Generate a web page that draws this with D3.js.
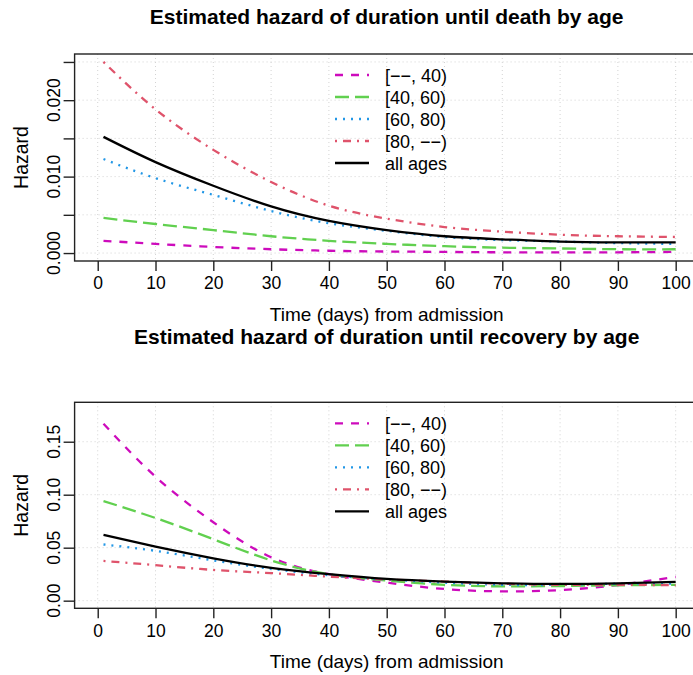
<!DOCTYPE html>
<html>
<head>
<meta charset="utf-8">
<script src="https://cdn.jsdelivr.net/npm/d3@7"></script>
<style>
  body { margin: 0; background: #fff; }
  svg { display: block; font-family: "Liberation Sans", Arial, Helvetica, sans-serif; }
  .grid line { stroke: #d3d3d3; stroke-width: 1; stroke-dasharray: 1,3; }
</style>
</head>
<body>
<svg id="chart" width="693" height="675"></svg>
<script>
const days = [1, 10, 20, 30, 40, 50, 60, 70, 80, 90, 100];
const groups = ["[\u2212\u2212, 40)", "[40, 60)", "[60, 80)", "[80, \u2212\u2212)", "all ages"];

// hazard of duration until death
const deathU40  = [0.0016, 0.0012, 0.0008, 0.0005, 0.0003, 0.0002, 0.00015, 0.0001, 0.0001, 0.0001, 0.00015];
const death4060 = [0.0046, 0.0038, 0.0030, 0.0022, 0.0016, 0.0012, 0.0009, 0.0007, 0.0006, 0.0005, 0.0005];
const death6080 = [0.0123, 0.0098, 0.0076, 0.0055, 0.0039, 0.0029, 0.0021, 0.0017, 0.0015, 0.0013, 0.0012];
const death80   = [0.0250, 0.0188, 0.0135, 0.0093, 0.0062, 0.0045, 0.0034, 0.0028, 0.0024, 0.0022, 0.0021];
const deathAll  = [0.0152, 0.0119, 0.0088, 0.0061, 0.0042, 0.0030, 0.0022, 0.0018, 0.0015, 0.0014, 0.0014];

// hazard of duration until recovery
const recovU40  = [0.167, 0.117, 0.074, 0.041, 0.025, 0.017, 0.0110, 0.0088, 0.0100, 0.0148, 0.0225];
const recov4060 = [0.094, 0.078, 0.058, 0.038, 0.025, 0.019, 0.0150, 0.0135, 0.0138, 0.0145, 0.0150];
const recov6080 = [0.053, 0.047, 0.038, 0.030, 0.024, 0.020, 0.017, 0.015, 0.015, 0.016, 0.016];
const recov80   = [0.0375, 0.0335, 0.029, 0.026, 0.0227, 0.020, 0.018, 0.016, 0.015, 0.015, 0.0145];
const recovAll  = [0.062, 0.051, 0.040, 0.031, 0.025, 0.0205, 0.018, 0.0164, 0.0158, 0.0164, 0.0177];

const xTicks = [0, 10, 20, 30, 40, 50, 60, 70, 80, 90, 100];
const deathYTicks = [0, 0.005, 0.010, 0.015, 0.020, 0.025];
const deathYLabels = [0, 0.010, 0.020];
const recovYTicks = [0, 0.05, 0.10, 0.15];

// line look per group (R palette: magenta, green, blue, red, black)
const colors = ["#CD0BBC", "#61D04F", "#2297E6", "#DF536B", "#000000"];
const dashes = ["8,8", "14,6", "2,6", "2,6,8,6", null];

const svg = d3.select("#chart");

function drawPanel(opts) {
  const { top, bottom, yDomain, yTicks, yLabels, yFmt, series, title, titleY, legendTop } = opts;
  const x = d3.scaleLinear().domain([-4, 104]).range([74.6, 698.8]);
  const y = d3.scaleLinear().domain(yDomain).range([bottom, top]);
  const g = svg.append("g");

  // dotted grid
  const grid = g.append("g").attr("class", "grid");
  grid.selectAll(".gx").data(xTicks).join("line")
    .attr("x1", d => x(d)).attr("x2", d => x(d))
    .attr("y1", top).attr("y2", bottom);
  grid.selectAll(".gy").data(yTicks).join("line")
    .attr("x1", 74.6).attr("x2", 698.8)
    .attr("y1", d => y(d)).attr("y2", d => y(d));

  // box
  g.append("rect")
    .attr("x", 74.6).attr("y", top)
    .attr("width", 698.8 - 74.6).attr("height", bottom - top)
    .attr("fill", "none").attr("stroke", "#222").attr("stroke-width", 1.4);

  // axes, R style
  const xAxis = g.append("g").attr("transform", `translate(0,${bottom})`)
    .call(d3.axisBottom(x).tickValues(xTicks).tickSize(10).tickSizeOuter(0).tickPadding(6));
  xAxis.select(".domain").remove();
  xAxis.selectAll("line").attr("stroke", "#222").attr("stroke-width", 1.4);
  xAxis.selectAll("text").attr("font-size", 17.5).attr("fill", "#000")
    .attr("font-family", "Liberation Sans, Arial, sans-serif");

  const yAxis = g.append("g").attr("transform", "translate(74.6,0)")
    .call(d3.axisLeft(y).tickValues(yTicks).tickSize(11).tickSizeOuter(0).tickFormat(""));
  yAxis.select(".domain").remove();
  yAxis.selectAll("line").attr("stroke", "#222").attr("stroke-width", 1.4);

  g.selectAll(".ylab").data(yLabels).join("text")
    .attr("transform", d => `translate(60,${y(d)}) rotate(-90)`)
    .attr("text-anchor", "middle").attr("font-size", 17.5)
    .text(d => d3.format(yFmt)(d));

  // curves
  const line = d3.line().curve(d3.curveNatural)
    .x((d, i) => x(days[i])).y(d => y(d));
  series.forEach((s, k) => {
    g.append("path").datum(s)
      .attr("d", line)
      .attr("fill", "none")
      .attr("stroke", colors[k])
      .attr("stroke-width", 2.3)
      .attr("stroke-dasharray", dashes[k]);
  });

  // legend
  const lg = g.append("g");
  groups.forEach((name, k) => {
    const ly = legendTop + k * 22;
    lg.append("line")
      .attr("x1", 335).attr("x2", 369).attr("y1", ly).attr("y2", ly)
      .attr("stroke", colors[k]).attr("stroke-width", 2.3)
      .attr("stroke-dasharray", dashes[k]);
    lg.append("text").attr("x", 385).attr("y", ly + 6.5)
      .attr("font-size", 18).text(name);
  });

  // labels
  g.append("text").attr("x", 386.7).attr("y", titleY)
    .attr("text-anchor", "middle").attr("font-size", 21).attr("font-weight", "bold")
    .text(title);
  g.append("text").attr("x", 386.7).attr("y", bottom + 60)
    .attr("text-anchor", "middle").attr("font-size", 19)
    .text("Time (days) from admission");
  g.append("text")
    .attr("transform", `translate(28,${(top + bottom) / 2}) rotate(-90)`)
    .attr("text-anchor", "middle").attr("font-size", 19.5)
    .text("Hazard");
}

drawPanel({
  top: 54, bottom: 261, yDomain: [-0.00104, 0.02604],
  yTicks: deathYTicks, yLabels: deathYLabels, yFmt: ".3f",
  series: [deathU40, death4060, death6080, death80, deathAll],
  title: "Estimated hazard of duration until death by age", titleY: 24,
  legendTop: 75
});

drawPanel({
  top: 402.3, bottom: 608.3, yDomain: [-0.0072, 0.1872],
  yTicks: recovYTicks, yLabels: recovYTicks, yFmt: ".2f",
  series: [recovU40, recov4060, recov6080, recov80, recovAll],
  title: "Estimated hazard of duration until recovery by age", titleY: 344,
  legendTop: 423.3
});
</script>
</body>
</html>
